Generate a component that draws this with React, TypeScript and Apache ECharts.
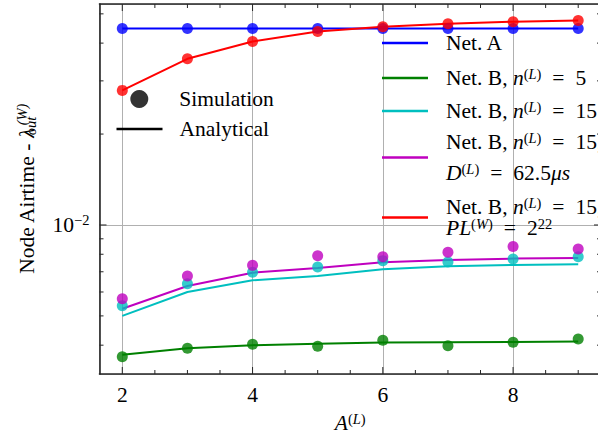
import React, { useEffect, useRef } from 'react';
import * as echarts from 'echarts';

const FONT = '"Liberation Serif", "DejaVu Serif", serif';

// ---- data ----
const xValues = [2, 3, 4, 5, 6, 7, 8, 9];
const netASim = [0.0447, 0.0447, 0.0447, 0.0447, 0.0447, 0.0447, 0.0447, 0.0447];
const netAAna = [0.0447, 0.0447, 0.0447, 0.0447, 0.0447, 0.0447, 0.0447, 0.0447];
const netB5Sim = [0.00366, 0.00391, 0.00403, 0.00397, 0.00415, 0.00398, 0.00409, 0.00419];
const netB5Ana = [0.00372, 0.00391, 0.004, 0.00404, 0.00408, 0.00409, 0.0041, 0.00411];
const netB15Sim = [0.0054, 0.00639, 0.00697, 0.00726, 0.00762, 0.00754, 0.00772, 0.00785];
const netB15Ana = [0.005, 0.006, 0.00656, 0.00678, 0.00713, 0.0073, 0.00737, 0.00741];
const netBDSim = [0.0057, 0.00678, 0.00735, 0.00791, 0.00785, 0.00812, 0.00848, 0.00833];
const netBDAna = [0.00528, 0.00628, 0.00695, 0.00721, 0.00752, 0.00766, 0.00774, 0.00778];
const netBPLSim = [0.0279, 0.0355, 0.0405, 0.0437, 0.0453, 0.0464, 0.0471, 0.0475];
const netBPLAna = [0.0279, 0.0355, 0.0405, 0.0437, 0.0453, 0.0464, 0.0471, 0.0475];

const seriesNames = [
  'Net. A',
  'Net. B, n(L) = 5',
  'Net. B, n(L) = 15',
  'Net. B, n(L) = 15, D(L) = 62.5μs',
  'Net. B, n(L) = 15, PL(W) = 2^22',
];
const seriesColors = ['#0000ff', '#008000', '#00bfbf', '#bf00bf', '#ff0000'];

const X_MIN = 1.65;
const X_MAX = 9.35;
const Y_MIN = 0.003211;
const Y_MAX = 0.0539;
const xMajorTicks = [2, 4, 6, 8];
const xMinorTicks = [2.5, 3, 3.5, 4.5, 5, 5.5, 6.5, 7, 7.5, 8.5, 9];
const yMajorTicks = [0.01];
const yMinorTicks = [0.004, 0.005, 0.006, 0.007, 0.008, 0.009, 0.02, 0.03, 0.04, 0.05];

const FS = 21.5;
const FSS = 14.5;

function rich(lh: number) {
  const base = { fontFamily: FONT, color: '#000', lineHeight: lh };
  return {
    r: { ...base, fontSize: FS },
    i: { ...base, fontSize: FS, fontStyle: 'italic' },
    eq: { ...base, fontSize: FS, padding: [0, 11, 0, 11] },
    s: { ...base, fontSize: FSS, padding: [0, 0, 9, 0] },
    si: { ...base, fontSize: FSS, fontStyle: 'italic', padding: [0, 0, 9, 0] },
    sb: { ...base, fontSize: FSS, fontStyle: 'italic', padding: [9, 0, 0, 2], width: 1 },
  };
}

const pair = (ys: number[]) => xValues.map((x, i) => [x, ys[i]]);

function tickSeries(axis: 'x' | 'y') {
  const data =
    axis === 'x'
      ? [...xMajorTicks.map((v) => [v, Y_MIN, 1]), ...xMinorTicks.map((v) => [v, Y_MIN, 0])]
      : [...yMajorTicks.map((v) => [X_MIN, v, 1]), ...yMinorTicks.map((v) => [X_MIN, v, 0])];
  return {
    type: 'custom',
    silent: true,
    clip: false,
    z: 10,
    data,
    renderItem: (params: any, api: any) => {
      const cs = params.coordSys;
      const len = api.value(2) === 1 ? 7 : 4;
      const p = api.coord([api.value(0), api.value(1)]);
      const style = { stroke: '#262626', lineWidth: 1 };
      if (axis === 'x') {
        const b = cs.y + cs.height;
        return {
          type: 'group',
          children: [
            { type: 'line', shape: { x1: p[0], y1: b, x2: p[0], y2: b - len }, style },
            { type: 'line', shape: { x1: p[0], y1: cs.y, x2: p[0], y2: cs.y + len }, style },
          ],
        };
      }
      const r = cs.x + cs.width;
      return {
        type: 'group',
        children: [
          { type: 'line', shape: { x1: cs.x, y1: p[1], x2: cs.x + len, y2: p[1] }, style },
          { type: 'line', shape: { x1: r, y1: p[1], x2: r - len, y2: p[1] }, style },
        ],
      };
    },
  };
}

const legendLabels = [
  '{r|Net. A}',
  '{r|Net. B, }{i|n}{s|(}{si|L}{s|)}{eq|=}{r|5}',
  '{r|Net. B, }{i|n}{s|(}{si|L}{s|)}{eq|=}{r|15}',
  '{r|Net. B, }{i|n}{s|(}{si|L}{s|)}{eq|=}{r|15,}\n{i|D}{s|(}{si|L}{s|)}{eq|=}{r|62.5}{i|μs}',
  '{r|Net. B, }{i|n}{s|(}{si|L}{s|)}{eq|=}{r|15,}\n{i|PL}{s|(}{si|W}{s|)}{eq|=}{r|2}{s|22}',
];
const legendTops = [32, 66, 99, 130, 195];
const legendLH = [26, 26, 26, 31, 21];

export default function App() {
  const ref = useRef<HTMLDivElement>(null);
  useEffect(() => {
    const chart = echarts.init(ref.current!, null, { renderer: 'svg' });
    const axisLine = { show: true, lineStyle: { color: '#262626', width: 1.6 } };
    const series: any[] = [];
    const sims = [netASim, netB5Sim, netB15Sim, netBDSim, netBPLSim];
    const anas = [netAAna, netB5Ana, netB15Ana, netBDAna, netBPLAna];
    seriesNames.forEach((name, k) => {
      series.push({
        type: 'line',
        name,
        data: pair(anas[k]),
        symbol: 'none',
        color: seriesColors[k],
        lineStyle: { width: 2, color: seriesColors[k] },
        z: 3,
      });
      series.push({
        type: 'scatter',
        name: name + ' (sim)',
        data: pair(sims[k]),
        symbol: 'circle',
        symbolSize: 11,
        itemStyle: { color: seriesColors[k] },
        z: 3,
      });
    });
    series.push({ type: 'scatter', name: 'Simulation', data: [], itemStyle: { color: '#000' } });
    series.push({ type: 'line', name: 'Analytical', data: [], color: '#000', lineStyle: { color: '#000' } });
    series.push(tickSeries('x'));
    series.push(tickSeries('y'));

    const legends: any[] = seriesNames.map((name, k) => ({
      data: [name],
      left: 382,
      top: legendTops[k],
      orient: 'vertical',
      padding: 0,
      selectedMode: false,
      icon: 'rect',
      itemWidth: 46,
      itemHeight: 2.5,
      formatter: () => legendLabels[k],
      textStyle: { fontFamily: FONT, fontSize: FS, color: '#000', padding: [0, 0, 0, 13], rich: rich(legendLH[k]) },
    }));
    legends.push({
      data: ['Simulation'],
      left: 130.3,
      top: 88,
      padding: 0,
      selectedMode: false,
      icon: 'circle',
      itemWidth: 18,
      itemHeight: 18,
      formatter: () => '{r|Simulation}',
      textStyle: { fontFamily: FONT, fontSize: FS, color: '#000', padding: [0, 0, 0, 26], rich: rich(26) },
    });
    legends.push({
      data: ['Analytical'],
      left: 116.5,
      top: 118,
      padding: 0,
      selectedMode: false,
      icon: 'rect',
      itemWidth: 46,
      itemHeight: 2.5,
      formatter: () => '{r|Analytical}',
      textStyle: { fontFamily: FONT, fontSize: FS, color: '#000', padding: [0, 0, 0, 12], rich: rich(26) },
    });

    chart.setOption({
      animation: false,
      backgroundColor: '#fff',
      textStyle: { fontFamily: FONT },
      grid: { left: 99.5, right: -3, top: 4, bottom: 62, show: false, containLabel: false, outerBoundsMode: 'none' },
      xAxis: [
        {
          type: 'value',
          position: 'bottom',
          min: X_MIN,
          max: X_MAX,
          axisLine,
          axisTick: { show: false },
          axisLabel: {
            formatter: (v: number) => (xMajorTicks.some((t) => Math.abs(t - v) < 1e-6) ? String(v) : ''),
            fontFamily: FONT,
            fontSize: FS,
            color: '#000',
            margin: 10,
          },
          splitLine: { show: true, lineStyle: { color: '#b0b0b0', width: 1 } },
          name: '{i|A}{s|(}{si|L}{s|)}',
          nameLocation: 'middle',
          nameGap: 36,
          nameTextStyle: { rich: rich(26) },
        },
        {
          type: 'value',
          position: 'top',
          min: X_MIN,
          max: X_MAX,
          axisLine,
          axisTick: { show: false },
          axisLabel: { show: false },
          splitLine: { show: false },
        },
      ],
      yAxis: [
        {
          type: 'log',
          logBase: 10,
          position: 'left',
          min: Y_MIN,
          max: Y_MAX,
          axisLine,
          axisTick: { show: false },
          axisLabel: {
            formatter: (v: number) => (Math.abs(Math.log10(v) + 2) < 1e-6 ? '{r|10}{s|−2}' : ''),
            margin: 10,
            rich: rich(26),
          },
          splitLine: { show: true, lineStyle: { color: '#b0b0b0', width: 1 } },
          name: '{r|Node Airtime - }{i|λ}{sb|out}{si|(W)}',
          nameLocation: 'middle',
          nameRotate: 90,
          nameGap: 60,
          nameTextStyle: { rich: rich(26) },
        },
        {
          type: 'log',
          logBase: 10,
          position: 'right',
          min: Y_MIN,
          max: Y_MAX,
          axisLine,
          axisTick: { show: false },
          axisLabel: { show: false },
          splitLine: { show: false },
        },
      ],
      legend: legends,
      series,
    });
    return () => chart.dispose();
  }, []);
  return <div ref={ref} style={{ position: 'fixed', left: 0, top: 0, width: 598, height: 436 }} />;
}
